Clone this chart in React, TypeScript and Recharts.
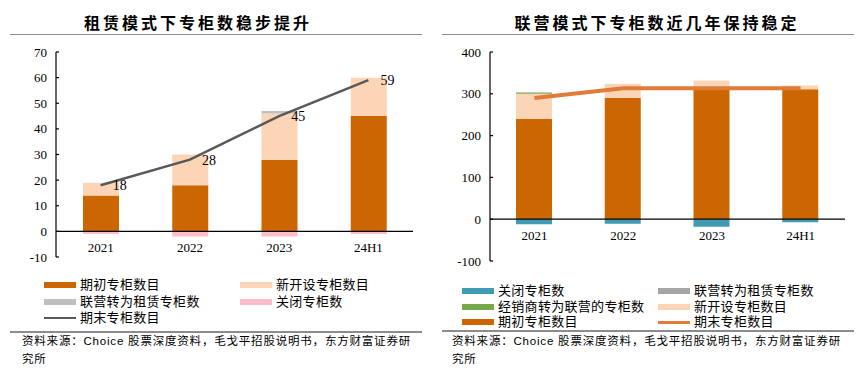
import React from 'react';
import { ComposedChart, Bar, Line, XAxis, YAxis, ReferenceLine, LabelList } from 'recharts';

const categories = ['2021', '2022', '2023', '24H1'];

// 租赁模式 (left chart)
const leaseOpening = [14, 18, 28, 45];
const leaseNew = [5, 12, 18, 15];
const leaseFromJoint = [0, 0, 1, 0];
const leaseClosed = [-1, -2, -2, -1];
const leaseEnding = [18, 28, 45, 59];
const leaseTicks = [-10, 0, 10, 20, 30, 40, 50, 60, 70];

// 联营模式 (right chart)
const jointOpening = [240, 290, 313, 311];
const jointNew = [60, 34, 19, 9];
const jointFromDealer = [3, 0, 0, 0];
const jointToLease = [0, 0, -1, 0];
const jointClosed = [-12, -11, -17, -7];
const jointEnding = [290, 313, 313, 313];
const jointTicks = [-100, 0, 100, 200, 300, 400];

const leftTitle = '租赁模式下专柜数稳步提升';
const rightTitle = '联营模式下专柜数近几年保持稳定';
const sourceLine1 = '资料来源：Choice 股票深度资料，毛戈平招股说明书，东方财富证券研';
const sourceLine2 = '究所';

const C_OPEN = '#CC6600';
const C_NEW = '#FBD5B5';
const C_GRAY_L = '#BFBFBF';
const C_PINK = '#FFBDCB';
const C_LINE_L = '#595959';
const C_TEAL = '#3F9AB4';
const C_GRAY_R = '#A6A6A6';
const C_GREEN = '#77A94A';
const C_LINE_R = '#E07B39';

const leftData = categories.map((c, i) => ({
  name: c,
  opening: leaseOpening[i],
  newly: leaseNew[i],
  fromJoint: leaseFromJoint[i],
  closed: leaseClosed[i],
  ending: leaseEnding[i],
}));

const rightData = categories.map((c, i) => ({
  name: c,
  opening: jointOpening[i],
  newly: jointNew[i],
  fromDealer: jointFromDealer[i],
  toLease: jointToLease[i],
  closed: jointClosed[i],
  ending: jointEnding[i],
}));

const leftLegend = [
  { name: '期初专柜数目', color: C_OPEN, line: false, x: 44, y: 285 },
  { name: '新开设专柜数目', color: C_NEW, line: false, x: 240, y: 285 },
  { name: '联营转为租赁专柜数', color: C_GRAY_L, line: false, x: 44, y: 302 },
  { name: '关闭专柜数', color: C_PINK, line: false, x: 240, y: 302 },
  { name: '期末专柜数目', color: C_LINE_L, line: true, x: 44, y: 318 },
];

const rightLegend = [
  { name: '关闭专柜数', color: C_TEAL, line: false, x: 462, y: 291 },
  { name: '联营转为租赁专柜数', color: C_GRAY_R, line: false, x: 658, y: 291 },
  { name: '经销商转为联营的专柜数', color: C_GREEN, line: false, x: 462, y: 307 },
  { name: '新开设专柜数目', color: C_NEW, line: false, x: 658, y: 307 },
  { name: '期初专柜数目', color: C_OPEN, line: false, x: 462, y: 322 },
  { name: '期末专柜数目', color: C_LINE_R, line: true, x: 658, y: 322 },
];

const SERIF = '"Liberation Serif", "DejaVu Serif", serif';
const CJK = '"Noto Sans CJK SC", "Noto Sans", sans-serif';
const CJK_TIGHT = '"Liberation Sans", "Noto Sans CJK SC", sans-serif';

const makeXTick = (dy: number) => (props: any) => (
  <text
    x={props.x}
    y={props.y}
    dy={dy}
    textAnchor="middle"
    fontFamily={SERIF}
    fontSize={13}
    fill="#000"
  >
    {props.payload.value}
  </text>
);

const yTickStyle = { fontFamily: SERIF, fontSize: 13, fill: '#000' };

function LegendItem({ item }: { item: any }) {
  return (
    <div
      style={{
        position: 'absolute',
        left: item.x,
        top: item.y - 7,
        height: 14,
        display: 'flex',
        alignItems: 'center',
        whiteSpace: 'nowrap',
      }}
    >
      <span
        style={{
          display: 'inline-block',
          width: 32,
          height: item.line ? (item.color === C_LINE_R ? 3 : 2) : 6,
          background: item.color,
          marginRight: 4,
        }}
      />
      <span
        style={{
          fontFamily: CJK_TIGHT,
          fontSize: 13,
          letterSpacing: 0.3,
          color: '#000',
          lineHeight: '14px',
          height: 14,
          display: 'inline-block',
        }}
      >
        {item.name}
      </span>
    </div>
  );
}

function Title({ text, cx }: { text: string; cx: number }) {
  return (
    <div
      style={{
        position: 'absolute',
        left: cx - 200,
        width: 400,
        top: 11,
        textAlign: 'center',
        fontFamily: CJK,
        fontWeight: 700,
        fontSize: 16,
        letterSpacing: 3,
        color: '#000',
        lineHeight: '22px',
      }}
    >
      {text}
    </div>
  );
}

function Rule({ x, y, w }: { x: number; y: number; w: number }) {
  return <div style={{ position: 'absolute', left: x, top: y, width: w, height: 1.5, background: '#8C8C8C' }} />;
}

function Source({ x }: { x: number }) {
  const st: React.CSSProperties = {
    position: 'absolute',
    left: x,
    fontFamily: CJK_TIGHT,
    fontSize: 11.5,
    letterSpacing: 0.8,
    color: '#000',
    whiteSpace: 'nowrap',
    lineHeight: '16px',
  };
  return (
    <>
      <div style={{ ...st, top: 333 }}>{sourceLine1}</div>
      <div style={{ ...st, top: 351 }}>{sourceLine2}</div>
    </>
  );
}

export default function App() {
  return (
    <div style={{ position: 'absolute', left: 0, top: 0, width: 866, height: 375, background: '#fff', overflow: 'hidden' }}>
      <Title text={leftTitle} cx={198} />
      <Title text={rightTitle} cx={657} />
      <Rule x={10} y={33.5} w={412} />
      <Rule x={442} y={33.5} w={412} />

      <div style={{ position: 'absolute', left: 0, top: 0 }}>
        <ComposedChart
          width={430}
          height={300}
          data={leftData}
          stackOffset="sign"
          margin={{ top: 52, right: 17, left: 0, bottom: 33 }}
        >
          <XAxis dataKey="name" height={10} axisLine={false} tickLine={false} tickSize={0} tickMargin={0} tick={makeXTick(-5.5)} interval={0} />
          <YAxis
            width={56}
            domain={[-10, 70]}
            ticks={leaseTicks}
            interval={0}
            axisLine={{ stroke: '#000', strokeWidth: 1.2 }}
            tickLine={{ stroke: '#000', strokeWidth: 1.2 }}
            tickSize={-3}
            tickMargin={12}
            tick={yTickStyle}
          />
          <Bar dataKey="opening" stackId="a" fill={C_OPEN} barSize={36} isAnimationActive={false} />
          <Bar dataKey="newly" stackId="a" fill={C_NEW} barSize={36} isAnimationActive={false} />
          <Bar dataKey="fromJoint" stackId="a" fill={C_GRAY_L} barSize={36} isAnimationActive={false} />
          <Bar dataKey="closed" stackId="a" fill={C_PINK} barSize={36} isAnimationActive={false} />
          <ReferenceLine y={0} stroke="#000" strokeWidth={1.3} />
          <Line dataKey="ending" stroke={C_LINE_L} strokeWidth={2.5} dot={false} isAnimationActive={false}>
            <LabelList dataKey="ending" position="right" offset={12} style={{ fontFamily: SERIF, fontSize: 14, fill: '#000' }} />
          </Line>
        </ComposedChart>
      </div>

      <div style={{ position: 'absolute', left: 430, top: 0 }}>
        <ComposedChart
          width={436}
          height={300}
          data={rightData}
          stackOffset="sign"
          margin={{ top: 52, right: 21, left: 0, bottom: 29 }}
        >
          <XAxis dataKey="name" height={10} axisLine={false} tickLine={false} tickSize={0} tickMargin={0} tick={makeXTick(-21.5)} interval={0} />
          <YAxis
            width={60}
            domain={[-100, 400]}
            ticks={jointTicks}
            interval={0}
            axisLine={{ stroke: '#000', strokeWidth: 1.2 }}
            tickLine={{ stroke: '#000', strokeWidth: 1.2 }}
            tickSize={-3}
            tickMargin={12}
            tick={yTickStyle}
          />
          <Bar dataKey="opening" stackId="a" fill={C_OPEN} barSize={36} isAnimationActive={false} />
          <Bar dataKey="newly" stackId="a" fill={C_NEW} barSize={36} isAnimationActive={false} />
          <Bar dataKey="fromDealer" stackId="a" fill={C_GREEN} barSize={36} isAnimationActive={false} />
          <Bar dataKey="toLease" stackId="a" fill={C_GRAY_R} barSize={36} isAnimationActive={false} />
          <Bar dataKey="closed" stackId="a" fill={C_TEAL} barSize={36} isAnimationActive={false} />
          <ReferenceLine y={0} stroke="#000" strokeWidth={1.3} />
          <Line dataKey="ending" stroke={C_LINE_R} strokeWidth={4} dot={false} isAnimationActive={false} />
        </ComposedChart>
      </div>

      {leftLegend.map((it) => (
        <LegendItem key={it.name + it.x} item={it} />
      ))}
      {rightLegend.map((it) => (
        <LegendItem key={it.name + it.x} item={it} />
      ))}

      <Rule x={10} y={331} w={412} />
      <Rule x={442} y={330} w={412} />
      <Source x={22} />
      <Source x={452} />
    </div>
  );
}
